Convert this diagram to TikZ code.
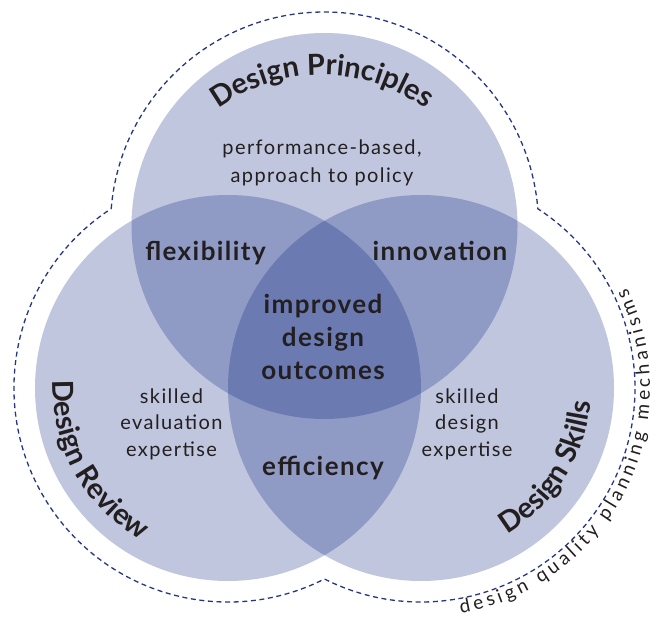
\documentclass[tikz,border=0pt]{standalone}
\usepackage{fontspec}
\setmainfont{Lato}
\newfontfamily\plainfont[LetterSpace=7]{Lato}
\newfontfamily\keyfont[LetterSpace=5.5]{Lato}
\usetikzlibrary{decorations.text}

\definecolor{venn}{RGB}{0,27,123}
\definecolor{ink}{RGB}{35,31,32}
\definecolor{rim}{RGB}{38,52,138}

\begin{document}
\begin{tikzpicture}[x=1pt,y=1pt,
  setfill/.style={fill=venn, fill opacity=0.25},
  plain/.style={font=\plainfont\fontsize{20}{26.5}\selectfont, text=ink,
    align=center, anchor=base, inner sep=0pt},
  keyword/.style={font=\keyfont\bfseries\fontsize{26}{33}\selectfont, text=ink,
    align=center, anchor=base, inner sep=0pt},
  arclabel/.style={decorate, decoration={text along path, text color=ink,
    text align=center, text={|\bfseries\fontsize{29}{29}\selectfont|#1}}},
  rimlabel/.style={decorate, decoration={text along path, text color=ink,
    text align={fit to path}, text={|\fontsize{19}{19}\selectfont|#1}}}]
\useasboundingbox (0,0) rectangle (660,619);

% circle centres
\coordinate (T) at (324.5,393);
\coordinate (L) at (228,231);
\coordinate (R) at (421,231);
\coordinate (PC) at (322,369);

% the three sets
\fill[setfill] (T) circle[radius=193];
\fill[setfill] (L) circle[radius=193];
\fill[setfill] (R) circle[radius=193];

% dashed boundary around the union
\draw[rim, line width=1.3pt, dash pattern=on 5pt off 3.6pt]
  ([shift={(175.36:214)}]T) arc[start angle=175.36, end angle=4.64, radius=214]
  arc[start angle=56.92, end angle=-116.81, radius=214]
  arc[start angle=-63.19, end angle=-236.92, radius=214] -- cycle;

% set titles
\path[arclabel={Design Principles}]
  ([shift={(150:175)}]PC) arc[start angle=150, end angle=30, radius=175];
\path[arclabel={Design Review}]
  ([shift={(159:175)}]L) arc[start angle=159, end angle=259, radius=175];
\path[arclabel={Design Skills}]
  ([shift={(-82:170)}]R) arc[start angle=-82, end angle=18, radius=170];

% outer caption
\path[rimlabel={design quality planning mechanisms}]
  ([shift={(-80:229)}]R) arc[start angle=-80, end angle=26, radius=229];

% region texts (anchored at the baseline of the last line)
\node[plain, font=\plainfont\fontsize{20}{28}\selectfont] (perf) at (322,436)
  {performance-based,\\approach to policy};
\node[keyword] (flex) at (205.5,359) {flexibility};
\node[keyword] (innov) at (440,359) {innovation};
\node[keyword] (outc) at (323,240) {improved\\design\\outcomes};
\node[keyword] (eff) at (323,144) {efficiency};
\node[plain] (skev) at (171.5,163) {skilled\\evaluation\\expertise};
\node[plain] (skds) at (467,163) {skilled\\design\\expertise};
\end{tikzpicture}
\end{document}
